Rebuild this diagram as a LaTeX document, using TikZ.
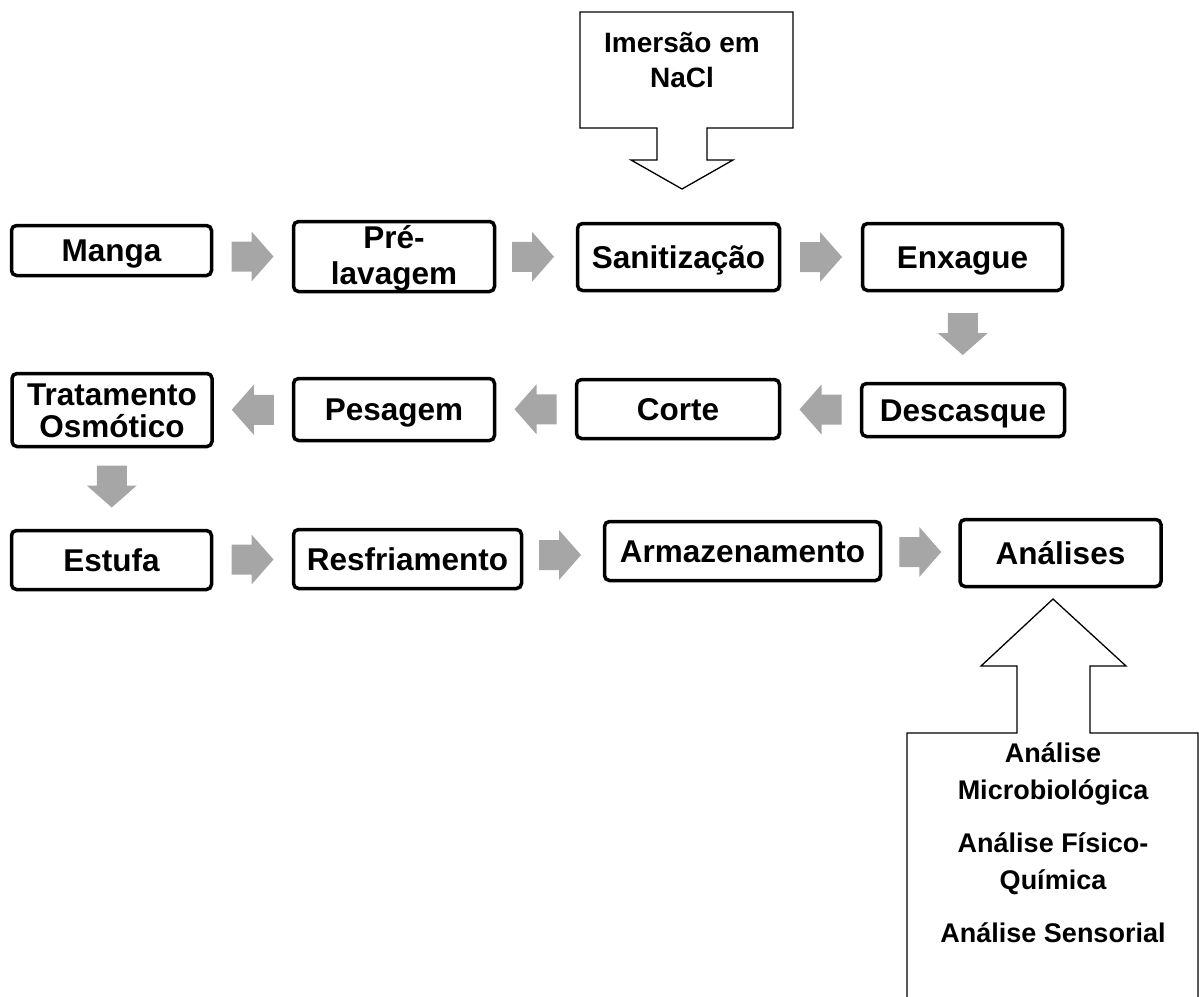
\documentclass[tikz,border=0pt]{standalone}
\usepackage{fontspec}
\setmainfont{Liberation Sans}
\usetikzlibrary{calc}
\definecolor{arrowgray}{HTML}{A6A6A6}
\tikzset{
  stepbox/.style={draw, line width=3.5pt, rounded corners=5pt, align=center, inner sep=0pt,
    text height=22pt, text depth=0pt, font=\fontsize{31.5}{35}\selectfont\bfseries},
  blockarrow/.pic={\fill[arrowgray] (-21,-15) -- (-1,-15) -- (-1,-25) -- (21,0) -- (-1,25)
     -- (-1,15) -- (-21,15) -- cycle;},
  callout/.style={draw, line width=1.3pt, line join=miter},
  calltext/.style={align=center, font=\fontsize{27}{37}\selectfont\bfseries}
}
\begin{document}
\begin{tikzpicture}[x=1pt,y=-1pt]
\useasboundingbox (0,0) rectangle (1199,996);
% process boxes
\node[stepbox, minimum width=200pt, minimum height=50pt] (manga) at (111.5,250.5) {Manga};
\node[stepbox, text height=56pt, minimum width=201pt, minimum height=70pt] (pre) at (394,256.5) {Pré-\\[1pt]lavagem};
\node[stepbox, minimum width=202pt, minimum height=67pt] (sani) at (678.5,257) {Sanitização};
\node[stepbox, minimum width=200pt, minimum height=67pt] (enx) at (962.5,257) {Enxague};
\node[stepbox, minimum width=203pt, minimum height=53pt] (desc) at (963,410) {Descasque};
\node[stepbox, minimum width=203pt, minimum height=59pt] (corte) at (678,409) {Corte};
\node[stepbox, minimum width=201pt, minimum height=62pt] (pes) at (394,409.5) {Pesagem};
\node[stepbox, text height=54pt, minimum width=200pt, minimum height=73pt] (trat) at (112,410) {Tratamento\\[-3pt]Osmótico};
\node[stepbox, minimum width=200pt, minimum height=59pt] (estufa) at (111.5,560) {Estufa};
\node[stepbox, minimum width=228pt, minimum height=59pt] (resf) at (407.5,559) {Resfriamento};
\node[stepbox, minimum width=276pt, minimum height=59pt] (armaz) at (742.5,551) {Armazenamento};
\node[stepbox, minimum width=201pt, minimum height=67pt] (anal) at (1060.5,553) {Análises};
% gray block arrows between boxes
\pic at ($(manga.east)!0.5!(pre.west)+(0,3)$) {blockarrow};
\pic at ($(pre.east)!0.5!(sani.west)+(-3,0)$) {blockarrow};
\pic at ($(sani.east)!0.5!(enx.west)$) {blockarrow};
\pic[rotate=-90] at ($(enx.south)!0.5!(desc.north)+(0,-3)$) {blockarrow};
\pic[rotate=180] at ($(desc.west)!0.5!(corte.east)$) {blockarrow};
\pic[rotate=180] at ($(corte.west)!0.5!(pes.east)$) {blockarrow};
\pic[rotate=180] at ($(pes.west)!0.5!(trat.east)$) {blockarrow};
\pic[rotate=-90] at ($(trat.south)!0.5!(estufa.north)+(0,-2)$) {blockarrow};
\pic at ($(estufa.east)!0.5!(resf.west)$) {blockarrow};
\pic at ($(resf.east)!0.5!(armaz.west)+(-3,0)$) {blockarrow};
\pic at ($(armaz.east)!0.5!(anal.west)$) {blockarrow};
% top callout
\draw[callout] (580,12) -- (793,12) -- (793,128) -- (707,128) -- (707,160) -- (733,160)
  -- (682,189) -- (631,160) -- (657,160) -- (657,128) -- (580,128) -- cycle;
\node[calltext, font=\fontsize{28}{35}\selectfont\bfseries] (imersao) at (682,60) {Imersão em\\NaCl};
% bottom callout
\draw[callout] (907,1003) -- (907,733) -- (1017,733) -- (1017,666) -- (981,666) -- (1053,599)
  -- (1126,666) -- (1090,666) -- (1090,733) -- (1198,733) -- (1198,1003);
\node[calltext, anchor=north] (analtext) at (1053,739) {Análise\\Microbiológica\\[16pt]Análise Físico-\\Química\\[16pt]Análise Sensorial};
\end{tikzpicture}
\end{document}
